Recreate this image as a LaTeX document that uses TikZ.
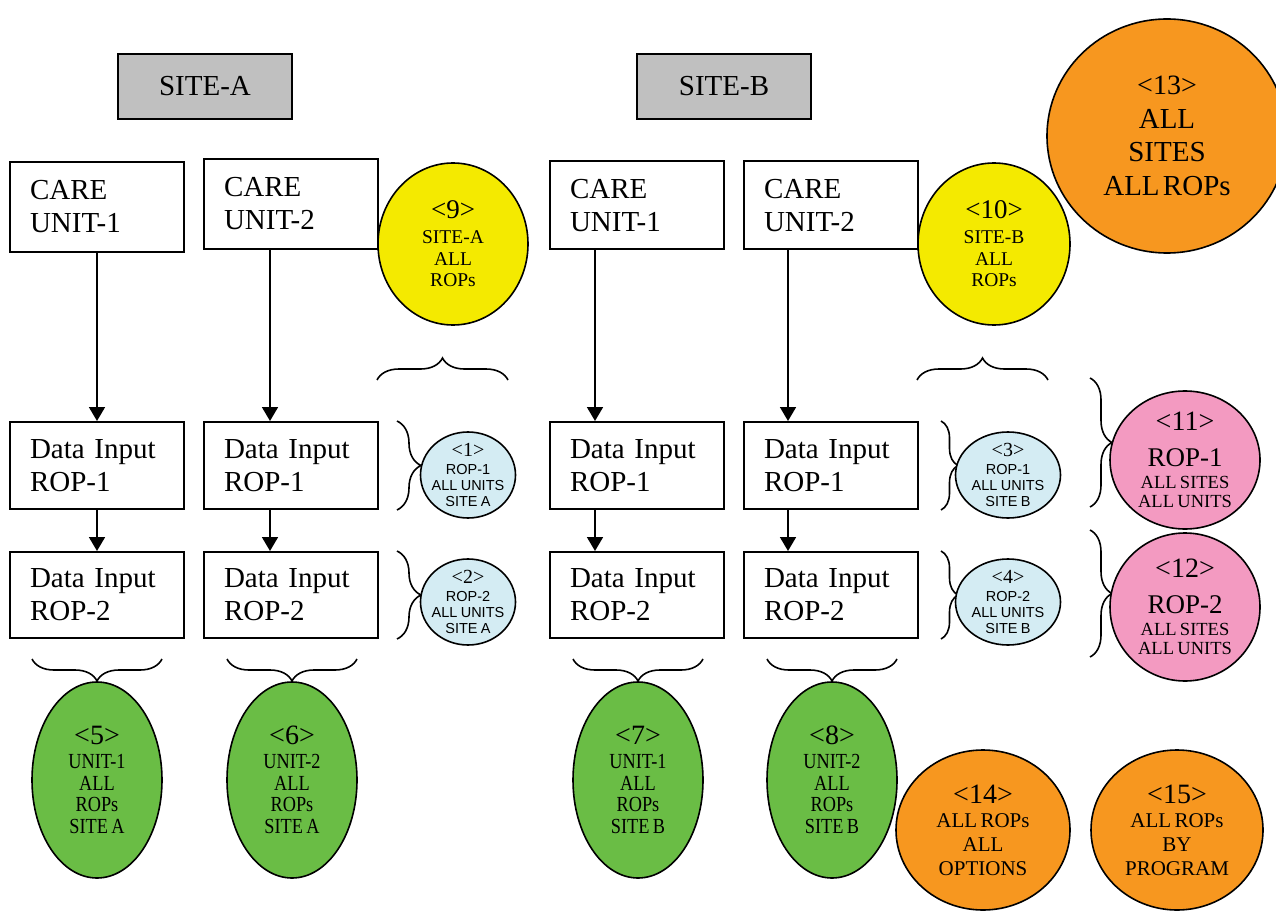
\documentclass[tikz,border=0pt]{standalone}
\usepackage{fontspec}
\setmainfont{Liberation Serif}
\setsansfont{Liberation Sans}
\newfontfamily\cserif[FakeStretch=0.85]{Liberation Serif}
\usetikzlibrary{arrows.meta,decorations.pathreplacing,shapes.geometric}
\setlength{\parindent}{0pt}
\newcommand\myline[3]{{\fontsize{#1}{#2}\selectfont #3\par}}
\newcommand\mysline[3]{{\sffamily\fontsize{#1}{#2}\selectfont #3\par}}
\newcommand\mycline[3]{{\cserif\fontsize{#1}{#2}\selectfont #3\par}}
\definecolor{cgray}{HTML}{C0C0C0}
\definecolor{cyellow}{HTML}{F4EA00}
\definecolor{cblue}{HTML}{D4ECF3}
\definecolor{cgreen}{HTML}{6ABD45}
\definecolor{cpink}{HTML}{F39AC1}
\definecolor{corange}{HTML}{F7971F}
\begin{document}
\begin{tikzpicture}[x=1pt,y=-1pt,
  box/.style={draw, line width=2pt, fill=white, inner xsep=20pt, inner ysep=0pt,
    text width=134pt, align=left, font=\fontsize{29}{33}\selectfont},
  sitebox/.style={draw, line width=2pt, fill=cgray, minimum width=174pt,
    minimum height=65pt, font=\fontsize{29}{33}\selectfont},
  ell/.style={ellipse, draw, line width=1.6pt, inner xsep=-65pt, inner ysep=-30pt,
    text width=140pt, align=center},
  arr/.style={line width=1.8pt, -{Triangle[width=16pt,length=14pt]}},
  brc/.style={decorate, decoration={brace, amplitude=#1}, line width=1.6pt},
  brc/.default=24pt]
\useasboundingbox (0,0) rectangle (1276,917);

% site headers
\node[sitebox] (siteA) at (205,86.5) {SITE-A};
\node[sitebox] (siteB) at (724,86.5) {SITE-B};

% care units
\node[box, minimum height=90pt] (cuA1) at (97,207) {CARE\\UNIT-1};
\node[box, minimum height=90pt] (cuA2) at (291,204) {CARE\\UNIT-2};
\node[box, minimum height=88pt] (cuB1) at (637,205.5) {CARE\\UNIT-1};
\node[box, minimum height=88pt] (cuB2) at (831,205.5) {CARE\\UNIT-2};

% data input rows
\node[box, minimum height=87pt] (diA1a) at (97,465.5) {Data Input\\ROP-1};
\node[box, minimum height=87pt] (diA2a) at (291,465.5) {Data Input\\ROP-1};
\node[box, minimum height=87pt] (diB1a) at (637,465.5) {Data Input\\ROP-1};
\node[box, minimum height=87pt] (diB2a) at (831,465.5) {Data Input\\ROP-1};
\node[box, minimum height=86pt] (diA1b) at (97,595) {Data Input\\ROP-2};
\node[box, minimum height=86pt] (diA2b) at (291,595) {Data Input\\ROP-2};
\node[box, minimum height=86pt] (diB1b) at (637,595) {Data Input\\ROP-2};
\node[box, minimum height=86pt] (diB2b) at (831,595) {Data Input\\ROP-2};

% arrows
\draw[arr] (cuA1.south) -- (diA1a.north);
\draw[arr] ([xshift=-21pt]cuA2.south) -- ([xshift=-21pt]diA2a.north);
\draw[arr] ([xshift=-42pt]cuB1.south) -- ([xshift=-42pt]diB1a.north);
\draw[arr] ([xshift=-43pt]cuB2.south) -- ([xshift=-43pt]diB2a.north);
\draw[arr] (diA1a.south) -- (diA1b.north);
\draw[arr] ([xshift=-21pt]diA2a.south) -- ([xshift=-21pt]diA2b.north);
\draw[arr] ([xshift=-42pt]diB1a.south) -- ([xshift=-42pt]diB1b.north);
\draw[arr] ([xshift=-43pt]diB2a.south) -- ([xshift=-43pt]diB2b.north);

% big orange 13 (drawn before yellow 10)
\node[ell, fill=corange, minimum width=240pt, minimum height=234pt] (c13) at (1167,136)
  {\myline{28}{28}{<13>}\myline{29}{34}{ALL}\myline{29}{33}{SITES}\myline{29}{34}{ALL ROPs}};

% yellow circles
\node[ell, fill=cyellow, minimum width=150pt, minimum height=162pt] (c9) at (453,244)
  {\myline{27}{27}{<9>}\myline{19.5}{25}{SITE-A}\myline{19.5}{22}{ALL}\myline{19.5}{21}{ROPs}};
\node[ell, fill=cyellow, minimum width=152pt, minimum height=162pt] (c10) at (994,244)
  {\myline{27}{27}{<10>}\myline{19.5}{25}{SITE-B}\myline{19.5}{22}{ALL}\myline{19.5}{21}{ROPs}};

% top braces
\coordinate (tbA1) at (377,380); \coordinate (tbA2) at (508,380);
\coordinate (tbB1) at (917,380); \coordinate (tbB2) at (1048,380);
\draw[brc=22pt] (tbA1) -- (tbA2);
\draw[brc=22pt] (tbB1) -- (tbB2);

% side braces
\draw[brc=24pt] ([xshift=18pt]diA2a.north east) -- ([xshift=18pt]diA2a.south east);
\draw[brc=24pt] ([xshift=18pt]diA2b.north east) -- ([xshift=18pt]diA2b.south east);
\draw[brc=17pt] ([xshift=22pt]diB2a.north east) -- ([xshift=22pt]diB2a.south east);
\draw[brc=17pt] ([xshift=22pt]diB2b.north east) -- ([xshift=22pt]diB2b.south east);

% blue circles
\node[ell, fill=cblue, minimum width=95pt, minimum height=86pt] (c1) at (468,475)
  {\myline{20}{20}{<1>}\mysline{14.5}{18}{ROP-1}\mysline{14.5}{16}{ALL UNITS}\mysline{14.5}{16}{SITE A}};
\node[ell, fill=cblue, minimum width=95pt, minimum height=86pt] (c2) at (468,602)
  {\myline{20}{20}{<2>}\mysline{14.5}{18}{ROP-2}\mysline{14.5}{16}{ALL UNITS}\mysline{14.5}{16}{SITE A}};
\node[ell, fill=cblue, minimum width=105pt, minimum height=86pt] (c3) at (1008,475)
  {\myline{20}{20}{<3>}\mysline{14.5}{18}{ROP-1}\mysline{14.5}{16}{ALL UNITS}\mysline{14.5}{16}{SITE B}};
\node[ell, fill=cblue, minimum width=105pt, minimum height=86pt] (c4) at (1008,602)
  {\myline{20}{20}{<4>}\mysline{14.5}{18}{ROP-2}\mysline{14.5}{16}{ALL UNITS}\mysline{14.5}{16}{SITE B}};

% pink braces and circles
\coordinate (pb1a) at (1090,378); \coordinate (pb1b) at (1090,507);
\coordinate (pb2a) at (1090,530); \coordinate (pb2b) at (1090,657);
\draw[brc=22pt] (pb1a) -- (pb1b);
\draw[brc=22pt] (pb2a) -- (pb2b);
\node[ell, fill=cpink, minimum width=150pt, minimum height=138pt] (c11) at (1185,460)
  {\myline{28}{28}{<11>}\myline{27}{36}{ROP-1}\myline{18.5}{22}{ALL SITES}\myline{18.5}{19}{ALL UNITS}};
\node[ell, fill=cpink, minimum width=150pt, minimum height=148pt] (c12) at (1185,607)
  {\myline{28}{28}{<12>}\myline{27}{36}{ROP-2}\myline{18.5}{22}{ALL SITES}\myline{18.5}{19}{ALL UNITS}};

% bottom braces
\coordinate (bb1a) at (162,659); \coordinate (bb1b) at (32,659);
\coordinate (bb2a) at (357,659); \coordinate (bb2b) at (227,659);
\coordinate (bb3a) at (703,659); \coordinate (bb3b) at (573,659);
\coordinate (bb4a) at (897,659); \coordinate (bb4b) at (767,659);
\draw[brc=22pt] (bb1a) -- (bb1b);
\draw[brc=22pt] (bb2a) -- (bb2b);
\draw[brc=22pt] (bb3a) -- (bb3b);
\draw[brc=22pt] (bb4a) -- (bb4b);

% green ellipses
\node[ell, fill=cgreen, minimum width=130pt, minimum height=196pt] (c5) at (97,780)
  {\myline{28}{28}{<5>}\mycline{21.5}{24}{UNIT-1}\mycline{21.5}{21.5}{ALL}\mycline{21.5}{21.5}{ROPs}\mycline{21.5}{21.5}{SITE A}};
\node[ell, fill=cgreen, minimum width=130pt, minimum height=196pt] (c6) at (292,780)
  {\myline{28}{28}{<6>}\mycline{21.5}{24}{UNIT-2}\mycline{21.5}{21.5}{ALL}\mycline{21.5}{21.5}{ROPs}\mycline{21.5}{21.5}{SITE A}};
\node[ell, fill=cgreen, minimum width=130pt, minimum height=196pt] (c7) at (638,780)
  {\myline{28}{28}{<7>}\mycline{21.5}{24}{UNIT-1}\mycline{21.5}{21.5}{ALL}\mycline{21.5}{21.5}{ROPs}\mycline{21.5}{21.5}{SITE B}};
\node[ell, fill=cgreen, minimum width=130pt, minimum height=196pt] (c8) at (832,780)
  {\myline{28}{28}{<8>}\mycline{21.5}{24}{UNIT-2}\mycline{21.5}{21.5}{ALL}\mycline{21.5}{21.5}{ROPs}\mycline{21.5}{21.5}{SITE B}};

% orange bottom circles
\node[ell, fill=corange, minimum width=174pt, minimum height=160pt] (c14) at (983,830)
  {\myline{28}{28}{<14>}\myline{21}{24}{ALL ROPs}\myline{21}{24}{ALL}\myline{21}{24}{OPTIONS}};
\node[ell, fill=corange, minimum width=172pt, minimum height=160pt] (c15) at (1177,830)
  {\myline{28}{28}{<15>}\myline{21}{24}{ALL ROPs}\myline{21}{24}{BY}\myline{21}{24}{PROGRAM}};
\end{tikzpicture}
\end{document}
